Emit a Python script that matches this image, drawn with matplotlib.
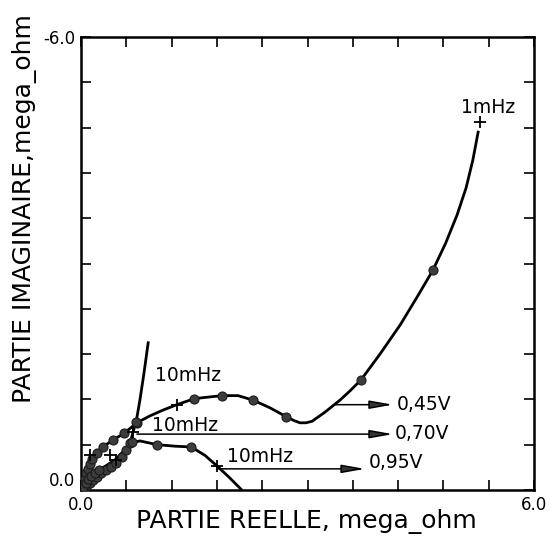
# -*- coding: utf-8 -*-
"""
Description: Diagramme d'impedance (Nyquist) pour trois potentiels
             0,45V ; 0,70V ; 0,95V
"""
# =============================     Import modules     =====================
import numpy as np
import matplotlib.pyplot as plt

# =============================        Input data      =====================
# -- Courbe 0,45V (trace)
re_045 = [0.01, 0.09, 0.21, 0.29, 0.42, 0.57, 0.74, 0.91, 1.09, 1.27, 1.50,
          1.68, 1.87, 2.08, 2.28, 2.50, 2.72, 2.82, 2.90, 2.98, 3.06, 3.23,
          3.43, 3.56, 3.71, 3.96, 4.23, 4.46, 4.66, 4.83, 4.98, 5.10, 5.19,
          5.26]
im_045 = [-0.01, -0.26, -0.49, -0.57, -0.66, -0.75, -0.89, -0.98, -1.06,
          -1.13, -1.21, -1.23, -1.25, -1.25, -1.19, -1.09, -0.97, -0.92,
          -0.89, -0.89, -0.91, -1.03, -1.19, -1.31, -1.46, -1.80, -2.19,
          -2.57, -2.91, -3.27, -3.64, -4.00, -4.37, -4.74]
# -- Courbe 0,45V (points mesures)
re_045_pts = [0.01, 0.02, 0.03, 0.05, 0.07, 0.09, 0.12, 0.15, 0.21, 0.29,
              0.42, 0.57, 0.74, 1.50, 1.87, 2.28, 2.72, 3.71, 4.66]
im_045_pts = [-0.02, -0.06, -0.11, -0.16, -0.22, -0.28, -0.34, -0.41, -0.49,
              -0.57, -0.66, -0.75, -0.89, -1.21, -1.25, -1.19, -0.97, -1.46,
              -2.91]

# -- Courbe 0,70V
re_070 = [0.00, 0.08, 0.16, 0.27, 0.40, 0.54, 0.60, 0.65, 0.69, 0.73, 0.78,
          0.83, 0.89]
im_070 = [0.00, -0.06, -0.13, -0.22, -0.31, -0.44, -0.53, -0.62, -0.77,
          -0.90, -1.19, -1.52, -1.95]
re_070_pts = [0.02, 0.05, 0.08, 0.12, 0.16, 0.21, 0.27, 0.33, 0.40, 0.47,
              0.54, 0.60, 0.65, 0.73]
im_070_pts = [-0.01, -0.03, -0.06, -0.09, -0.13, -0.17, -0.22, -0.26, -0.31,
              -0.36, -0.44, -0.53, -0.62, -0.90]

# -- Courbe 0,95V
re_095 = [0.00, 0.06, 0.13, 0.24, 0.33, 0.45, 0.57, 0.65, 0.78, 1.01, 1.25,
          1.46, 1.64, 1.80, 1.96, 2.12]
im_095 = [0.00, -0.09, -0.19, -0.27, -0.32, -0.40, -0.52, -0.62, -0.65,
          -0.60, -0.58, -0.57, -0.46, -0.32, -0.17, -0.01]
re_095_pts = [0.03, 0.06, 0.09, 0.13, 0.18, 0.24, 0.67, 1.01, 1.46]
im_095_pts = [-0.04, -0.09, -0.14, -0.19, -0.23, -0.27, -0.63, -0.60, -0.57]

# -- Points de frequence (+)
re_freq = [1.27, 0.69, 1.80, 5.28, 0.12, 0.38, 0.47]
im_freq = [-1.12, -0.77, -0.32, -4.87, -0.46, -0.46, -0.40]

# -- Etiquettes de frequence
freq_labels = ['10mHz', '10mHz', '10mHz', '1mHz']
freq_lab_re = [1.42, 1.38, 2.37, 5.39]
freq_lab_im = [-1.51, -0.86, -0.45, -5.07]

# -- Fleches des potentiels
pot_labels = ['0,45V', '0,70V', '0,95V']
arr_start = [3.34, 0.74, 1.80]
arr_end = [4.13, 4.13, 3.76]
arr_im = [-1.13, -0.74, -0.28]
pot_lab_re = [4.18, 4.16, 3.81]
pot_lab_im = [-1.13, -0.75, -0.36]

# =============================     Plot settings      =====================
lw_curve = 2.0
lw_arrow = 1.1
dot = dict(marker='o', ls='none', ms=6.5, mfc='#3c3c3c', mec='#1a1a1a',
           mew=0.8, zorder=3)
fs_txt = 13.5

#=============================    Main program   ==============================
fig = plt.figure(figsize=(5.5, 5.4), dpi=100)
ax = fig.add_axes([81 / 550, 1 - 490 / 540, 453 / 550, 453 / 540])

# -- Curves
ax.plot(re_045, im_045, color='k', lw=lw_curve, zorder=2)
ax.plot(re_070, im_070, color='k', lw=lw_curve, zorder=2)
ax.plot(re_095, im_095, color='k', lw=lw_curve, zorder=2)

ax.plot(re_045_pts, im_045_pts, **dot)
ax.plot(re_070_pts, im_070_pts, **dot)
ax.plot(re_095_pts, im_095_pts, **dot)

ax.plot(re_freq, im_freq, marker='+', ls='none', ms=9, mew=1.3, color='k',
        zorder=4)

# -- Frequency labels
for lab, x, y in zip(freq_labels, freq_lab_re, freq_lab_im):
    ax.text(x, y, lab, fontsize=fs_txt, ha='center', va='center')

# -- Arrows with potential labels
for lab, x1, x2, y, tx, ty in zip(pot_labels, arr_start, arr_end, arr_im,
                                  pot_lab_re, pot_lab_im):
    ax.annotate('', xy=(x2, y), xytext=(x1, y),
                arrowprops=dict(arrowstyle='-|>,head_length=1.4,head_width=0.25',
                                mutation_scale=10, lw=lw_arrow, color='k',
                                fc='#333333', shrinkA=0, shrinkB=0))
    ax.text(tx, ty, lab, fontsize=fs_txt, ha='left', va='center')

# -- Axes
ax.set_xlim(0.0, 6.0)
ax.set_ylim(0.0, -6.0)
ticks = np.arange(0, 6.01, 0.6)
ax.set_xticks(ticks)
ax.set_xticklabels(['0.0'] + [''] * 9 + ['6.0'])
ax.set_yticks(-ticks)
ax.set_yticklabels(['0.0'] + [''] * 9 + ['-6.0'])
ax.tick_params(direction='in', length=7, width=1.2, top=True, right=True,
               labelsize=12, pad=4)
for sp in ax.spines.values():
    sp.set_linewidth(1.8)
ax.get_yticklabels()[0].set_va('bottom')

# -- Axis titles (placed like in the original figure)
fig.text(306 / 550, 1 - 521 / 540, 'PARTIE REELLE, mega_ohm', fontsize=18,
         ha='center', va='center')
fig.text(25 / 550, 1 - 209 / 540, 'PARTIE IMAGINAIRE,mega_ohm', fontsize=18,
         ha='center', va='center', rotation=90)

plt.savefig('out.png', dpi=100)
#=============================    End of program   ============================
